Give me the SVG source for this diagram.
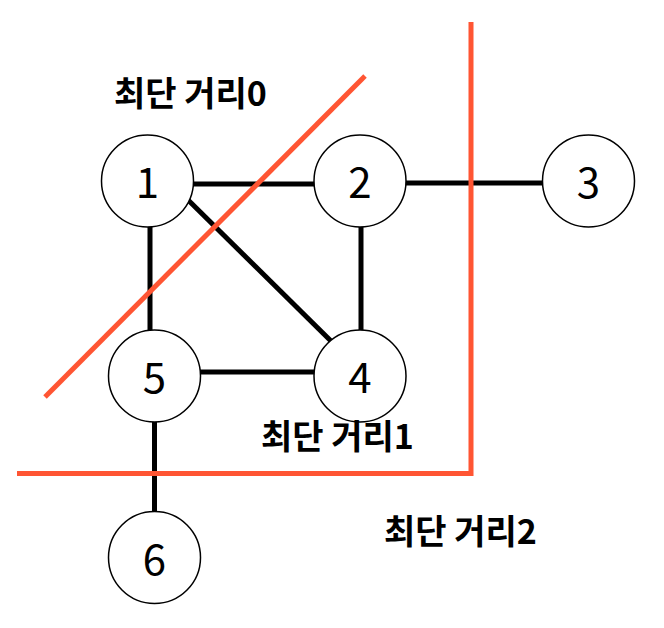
<svg xmlns="http://www.w3.org/2000/svg" width="664" height="628" viewBox="0 0 664 628">
<style>
.edge{stroke:#000;stroke-width:5;fill:none}
.red{stroke:#FF5533;stroke-width:5;fill:none}
.node circle{fill:#fff;stroke:#000;stroke-width:1.5}
.node text{font-family:"Noto Sans CJK KR","Noto Sans",sans-serif;font-size:42px;text-anchor:middle;fill:#000}
.lbl{font-family:"Noto Sans CJK KR",sans-serif;font-size:34px;font-weight:bold;fill:#000}
</style>
<rect width="664" height="628" fill="#fff"/>
<g id="connectors">
<line class="edge" x1="180" y1="184" x2="330" y2="184"/>
<line class="edge" x1="390" y1="183" x2="560" y2="183"/>
<line class="edge" x1="150" y1="210" x2="150" y2="350"/>
<line class="edge" x1="361" y1="210" x2="361" y2="350"/>
<line class="edge" x1="180" y1="192" x2="335" y2="345"/>
<line class="edge" x1="180" y1="372" x2="330" y2="372"/>
<line class="edge" x1="154.5" y1="400" x2="154.5" y2="530"/>
</g>
<g id="node1" class="node"><circle cx="147.5" cy="181" r="46"/><text x="147.5" y="198">1</text></g>
<g id="node2" class="node"><circle cx="360" cy="181" r="46"/><text x="360" y="198">2</text></g>
<g id="node3" class="node"><circle cx="588.5" cy="181" r="46"/><text x="588.5" y="198">3</text></g>
<g id="node4" class="node"><circle cx="360" cy="376" r="46"/><text x="360" y="393">4</text></g>
<g id="node5" class="node"><circle cx="154.5" cy="376" r="46"/><text x="154.5" y="393">5</text></g>
<g id="node6" class="node"><circle cx="154.5" cy="557.5" r="46"/><text x="154.5" y="574.5">6</text></g>
<g id="boundaries">
<line class="red" x1="45" y1="397" x2="365" y2="76"/>
<polyline class="red" points="471,22 471,473.5 17,473.5"/>
</g>
<g id="labels">
<text class="lbl" x="114" y="106">최단 거리0</text>
<text class="lbl" x="261" y="449">최단 거리1</text>
<text class="lbl" x="384" y="544">최단 거리2</text>
</g>
</svg>
